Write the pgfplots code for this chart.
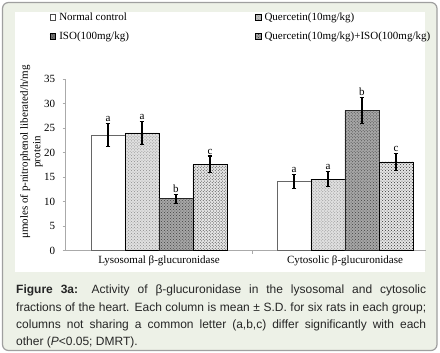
\documentclass[border=0pt]{standalone}
\usepackage{pgfplots}
\pgfplotsset{compat=1.18}
\usepackage{pgfplotstable}
\usetikzlibrary{patterns}
\usepackage{fontspec}
\setmainfont{Liberation Serif}
\newfontfamily\capfont{Liberation Sans}
\newcommand\cf{\fontsize{11bp}{12.5bp}\selectfont}
\definecolor{framebg}{RGB}{237,241,231}
\definecolor{axgray}{RGB}{170,170,170}

\pgfplotstableread{
x y err lab
0 23.6 2.3 a
1 14.1 1.4 a
}\tA
\pgfplotstableread{
x y err lab
0 24.0 2.3 a
1 14.6 1.5 a
}\tB
\pgfplotstableread{
x y err lab
0 10.6 0.9 b
1 28.6 2.7 b
}\tC
\pgfplotstableread{
x y err lab
0 17.6 1.7 c
1 18.1 1.8 c
}\tD

\begin{document}
\begin{tikzpicture}
\useasboundingbox (0,0) rectangle (440bp,353bp);
\draw[draw=gray!75, line width=1.2bp, fill=framebg, rounded corners=6bp] (2.5bp,2.5bp) rectangle (437bp,350.5bp);
\fill[white] (15bp,81bp) rectangle (425bp,341bp);
\begin{axis}[
  at={(65.7bp,102.3bp)}, anchor=south west,
  scale only axis, width=360bp, height=171.7bp,
  xmin=-0.5016, xmax=1.434, ymin=0, ymax=35,
  axis x line*=bottom, axis y line*=left,
  axis line style={-, axgray, line width=0.8bp},
  ytick={0,5,...,35},
  xtick={0.5}, xticklabels={},
  extra x ticks={0,1},
  extra x tick labels={Lysosomal β-glucuronidase, Cytosolic β-glucuronidase},
  extra x tick style={major tick length=0pt, tick label style={yshift=-2bp}},
  tick style={axgray, line width=0.8bp},
  tick align=outside, major tick length=3bp,
  ticklabel style={font=\cf, text=black},
  /pgf/number format/assume math mode=true,
  yticklabel style={xshift=-4bp},
  ylabel={μmoles of p-nitrophenol liberated/h/mg\\protein},
  ylabel style={font=\cf, align=center, at={(axis description cs:-0.095,0.575)}, anchor=center, rotate=0},
  legend columns=2,
  legend cell align=left,
  legend style={draw=none, fill=none, font=\cf, at={(axis description cs:-0.045,1.398)}, anchor=north west,
    /tikz/every even column/.append style={column sep=124bp},
    /tikz/every odd column/.append style={column sep=1.5bp},
    row sep=6bp, inner sep=0pt},
  ybar, bar width=0.1828,
  visualization depends on={\thisrow{err} \as \myerr},
  nodes near coords,
  point meta=explicit symbolic,
  nodes near coords style={font=\cf, text=black, anchor=south, inner sep=1.5bp, shift={(axis direction cs:0,\myerr)}},
  error bars/y dir=both, error bars/y explicit,
  error bars/error bar style={line width=1.1bp, black},
  error bars/error mark options={rotate=90, mark size=2.3bp, line width=1.1bp, black},
]
\addplot[bar shift=-0.2742, draw=gray!80!black, line width=0.7bp, fill=white,
  legend image code/.code={\draw[draw=black!70, line width=0.5bp, fill=white] (0bp,-2.8bp) rectangle (5.6bp,2.8bp);}]
  table[x=x, y=y, y error=err, meta=lab] {\tA};
\addlegendentry{Normal control}
\addplot[bar shift=-0.0914, draw=black, line width=0.8bp, fill=black!12, postaction={pattern=crosshatch dots, pattern color=black!45},
  legend image code/.code={\draw[draw=black, line width=0.5bp, fill=black!25] (0bp,-2.8bp) rectangle (5.6bp,2.8bp);}]
  table[x=x, y=y, y error=err, meta=lab] {\tB};
\addlegendentry{Quercetin(10mg/kg)}
\addplot[bar shift=0.0914, draw=black!85, line width=0.8bp, fill=black!35, postaction={pattern=crosshatch dots, pattern color=black!75},
  legend image code/.code={\draw[draw=black, line width=0.5bp, fill=black!55] (0bp,-2.8bp) rectangle (5.6bp,2.8bp);}]
  table[x=x, y=y, y error=err, meta=lab] {\tC};
\addlegendentry{ISO(100mg/kg)}
\addplot[bar shift=0.2742, draw=black, line width=0.8bp, fill=black!10, postaction={pattern=crosshatch dots, pattern color=black!80},
  legend image code/.code={\draw[draw=black, line width=0.5bp, fill=black!35] (0bp,-2.8bp) rectangle (5.6bp,2.8bp);}]
  table[x=x, y=y, y error=err, meta=lab] {\tD};
\addlegendentry{Quercetin(10mg/kg)+ISO(100mg/kg)}
\end{axis}
\node[anchor=north west, text width=410bp, align=justify, inner sep=0pt, text=black!85,
  font=\capfont\fontsize{12bp}{17.3bp}\selectfont] at (16bp,68bp)
  {\textbf{Figure 3a:} Activity of β-glucuronidase in the lysosomal and cytosolic\linebreak fractions of the heart. Each column is mean ± S.D. for six rats in each group;\linebreak columns not sharing a common letter (a,b,c) differ significantly with each\linebreak other (\textit{P}<0.05; DMRT).};
\end{tikzpicture}
\end{document}
